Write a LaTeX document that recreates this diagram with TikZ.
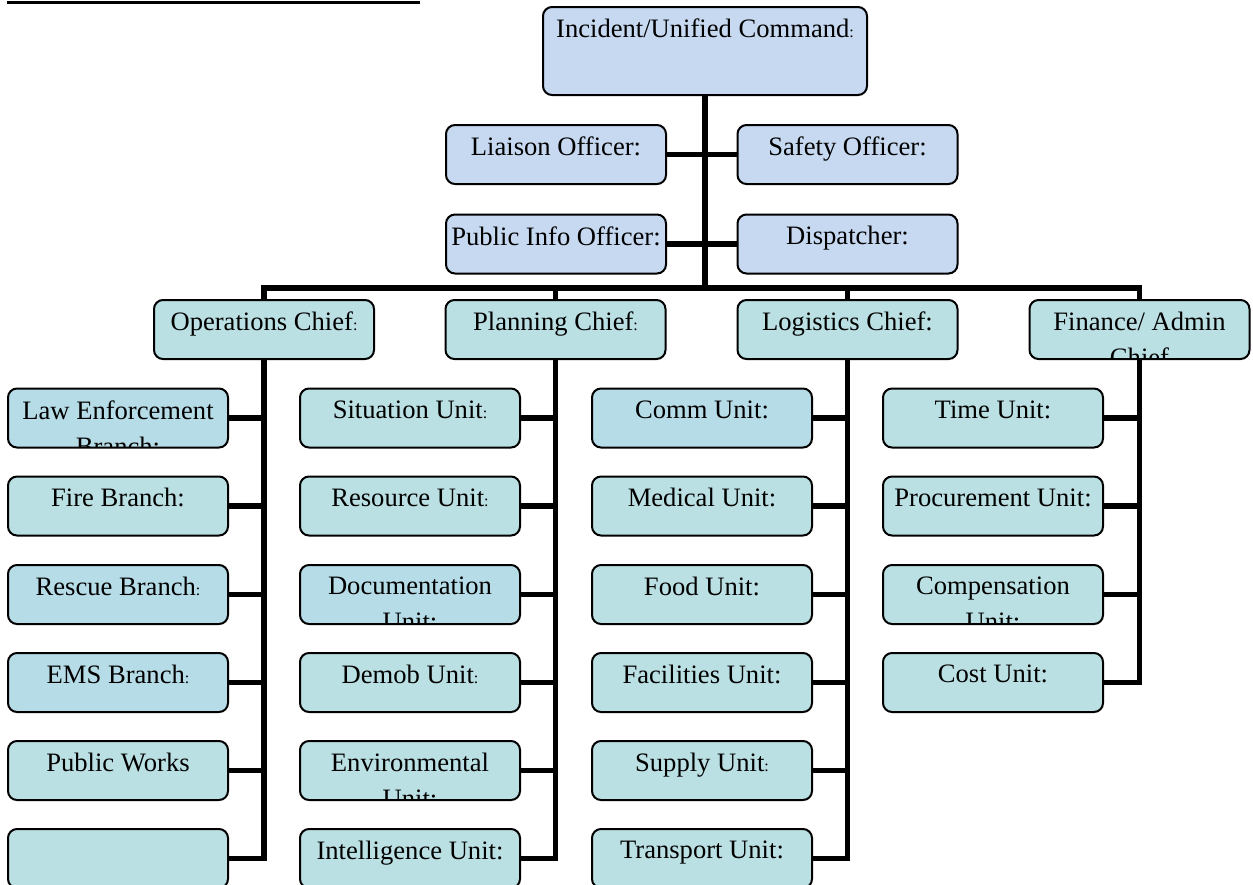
\documentclass[tikz,border=0pt]{standalone}
\usepackage{fontspec}
\setmainfont{Liberation Serif}
\usetikzlibrary{positioning}

\definecolor{topblue}{HTML}{C6D9F1}
\definecolor{unitaqua}{HTML}{B6DCE8}
\definecolor{unitpale}{HTML}{BBE0E3}

\newcommand{\smallcolon}{{\fontsize{8}{10}\selectfont :}}

\tikzset{
	orgbox/.style={draw, line width=1pt, rounded corners=4.5pt,
		minimum width=110pt, minimum height=29.5pt, inner sep=0pt},
	topbox/.style={orgbox, fill=topblue},
	aquabox/.style={orgbox, fill=unitaqua},
	palebox/.style={orgbox, fill=unitpale},
	textline/.style={draw=none, fill=none, rounded corners=0pt, inner sep=0pt,
		minimum width=0pt, minimum height=0pt, path picture={}, anchor=north,
		align=center, font=\fontsize{13.3}{18}\selectfont},
	boxtext/.style={path picture={
		\node[textline] at ([yshift=-5.5pt]path picture bounding box.north) {#1};}},
	link/.style={line width=2.8pt},
}

\begin{document}
\begin{tikzpicture}[x=0.5pt, y=-0.5pt]
	\path[use as bounding box] (0,0) rectangle (1253,884);
	\clip (0,0) rectangle (1253,884);
	\fill[white] (0,0) rectangle (1253,884);
	\draw[line width=1.5pt] (7,2.5) -- (420,2.5);

	% command staff
	\node[topbox, minimum width=162pt, minimum height=44pt,
		boxtext={Incident/Unified Command\smallcolon}]	(cmd)		at (705,51)		{};
	\node[topbox, boxtext={Liaison Officer:}]		(liaison)	at (556,154.5)	{};
	\node[topbox, boxtext={Safety Officer:}]		(safety)	at (847.5,154.5){};
	\node[topbox, boxtext={Public Info Officer:}]	(pio)		at (556,244)	{};
	\node[topbox, boxtext={Dispatcher:}]			(disp)		at (847.5,244)	{};
	\coordinate (hub) at (705,288);

	% section chiefs
	\node[palebox, boxtext={Operations Chief\smallcolon}]	(ops)	at (264,329.5)		{};
	\node[palebox, boxtext={Planning Chief\smallcolon}]		(plan)	at (555.5,329.5)	{};
	\node[palebox, boxtext={Logistics Chief:}]				(logi)	at (847.5,329.5)	{};
	\node[palebox, boxtext={Finance/ Admin\\Chief}]			(fin)	at (1139.5,329.5)	{};

	% operations
	\node[aquabox, boxtext={Law Enforcement\\Branch:}]	(opsA)	at (118,418)	{};
	\node[palebox, boxtext={Fire Branch:}]				(opsB)	at (118,506)	{};
	\node[aquabox, boxtext={Rescue Branch\smallcolon}]	(opsC)	at (118,594.5)	{};
	\node[aquabox, boxtext={EMS Branch\smallcolon}]		(opsD)	at (118,682.5)	{};
	\node[palebox, boxtext={Public Works}]				(opsE)	at (118,770.5)	{};
	\node[palebox]										(opsF)	at (118,858.5)	{};

	% planning
	\node[palebox, boxtext={Situation Unit\smallcolon}]	(planA)	at (410,418)	{};
	\node[palebox, boxtext={Resource Unit\smallcolon}]	(planB)	at (410,506)	{};
	\node[aquabox, boxtext={Documentation\\Unit:}]		(planC)	at (410,594.5)	{};
	\node[palebox, boxtext={Demob Unit\smallcolon}]		(planD)	at (410,682.5)	{};
	\node[palebox, boxtext={Environmental\\Unit:}]		(planE)	at (410,770.5)	{};
	\node[palebox, boxtext={Intelligence Unit:}]		(planF)	at (410,858.5)	{};

	% logistics
	\node[aquabox, boxtext={Comm Unit:}]				(logiA)	at (702,418)	{};
	\node[palebox, boxtext={Medical Unit:}]				(logiB)	at (702,506)	{};
	\node[palebox, boxtext={Food Unit:}]				(logiC)	at (702,594.5)	{};
	\node[palebox, boxtext={Facilities Unit:}]			(logiD)	at (702,682.5)	{};
	\node[palebox, boxtext={Supply Unit\smallcolon}]	(logiE)	at (702,770.5)	{};
	\node[palebox, boxtext={Transport Unit:}]			(logiF)	at (702,858.5)	{};

	% finance
	\node[palebox, boxtext={Time Unit:}]				(finA)	at (993,418)	{};
	\node[palebox, boxtext={Procurement Unit:}]			(finB)	at (993,506)	{};
	\node[palebox, boxtext={Compensation\\Unit:}]		(finC)	at (993,594.5)	{};
	\node[palebox, boxtext={Cost Unit:}]				(finD)	at (993,682.5)	{};

	% lines
	\draw[link] (cmd) -- (hub);
	\draw[link] (liaison) -- (safety);
	\draw[link] (pio) -- (disp);
	\draw[link] (ops.north) |- (hub) -| (fin.north);
	\draw[link] (plan |- hub) -- (plan.north);
	\draw[link] (logi |- hub) -- (logi.north);

	\draw[link] (ops.south) |- (opsF.east);
	\draw[link] (plan.south) |- (planF.east);
	\draw[link] (logi.south) |- (logiF.east);
	\draw[link] (fin.south) |- (finD.east);
	\foreach \u in {A,B,C,D,E} {
		\draw[link] (ops\u.east) -- (ops |- ops\u.east);
		\draw[link] (plan\u.east) -- (plan |- plan\u.east);
		\draw[link] (logi\u.east) -- (logi |- logi\u.east);
	}
	\foreach \u in {A,B,C}
		\draw[link] (fin\u.east) -- (fin |- fin\u.east);
\end{tikzpicture}
\end{document}
